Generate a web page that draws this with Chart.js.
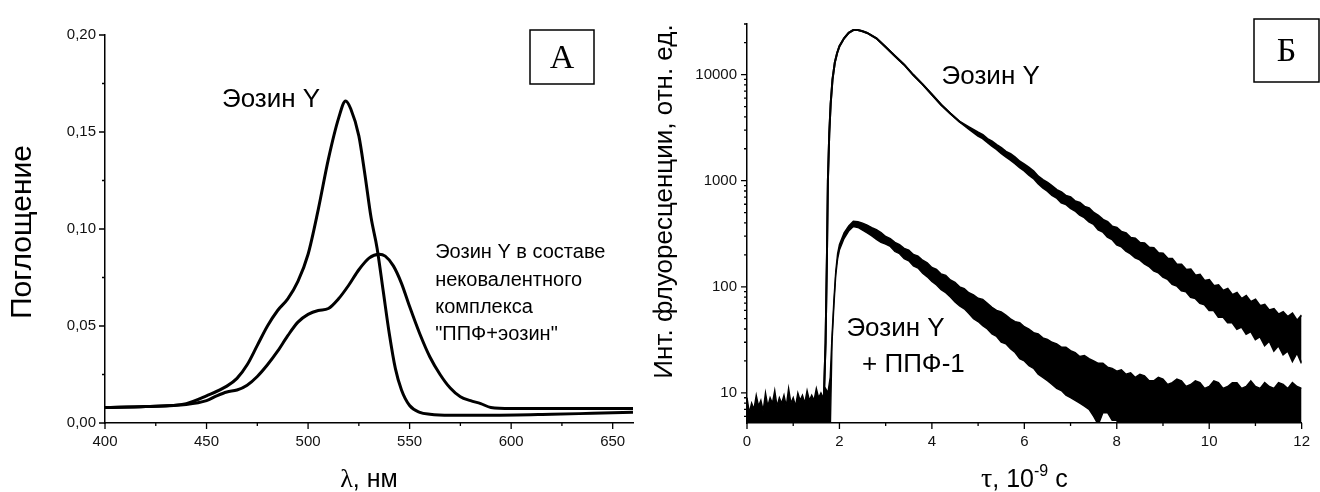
<!DOCTYPE html>
<html lang="ru">
<head>
<meta charset="UTF-8">
<title>Эозин Y: поглощение и флуоресценция</title>
<script src="https://cdn.jsdelivr.net/npm/chart.js@4.4.1/dist/chart.umd.min.js"></script>
<style>
    body { margin: 0; background: #fff; }
    canvas { position: absolute; top: 0; }
    #absChart { left: 0; }
    #decayChart { left: 650px; }
</style>
</head>
<body>
<canvas id="absChart" width="650" height="492"></canvas>
<canvas id="decayChart" width="670" height="492"></canvas>
<script>
// ---- A: absorption spectra ----
const wlEosin = [400, 420, 440, 450, 460, 465, 470, 475, 480, 485, 490, 495, 500, 505, 510, 515, 518.5, 521, 525, 528, 531, 534, 537, 540, 543, 546, 550, 555, 560, 570, 590, 620, 640, 660];
const absEosin = [0.008, 0.0085, 0.010, 0.014, 0.019, 0.023, 0.030, 0.040, 0.050, 0.058, 0.064, 0.073, 0.087, 0.110, 0.136, 0.157, 0.166, 0.162, 0.148, 0.128, 0.106, 0.090, 0.068, 0.046, 0.028, 0.017, 0.009, 0.0055, 0.0045, 0.004, 0.004, 0.0045, 0.005, 0.0055];
const wlComplex = [400, 420, 440, 450, 455, 460, 465, 470, 475, 480, 485, 490, 495, 500, 505, 510, 515, 520, 525, 530, 535, 538, 542, 546, 550, 555, 560, 565, 570, 575, 580, 585, 590, 600, 620, 640, 660];
const absComplex = [0.008, 0.0085, 0.0095, 0.0115, 0.014, 0.016, 0.017, 0.0195, 0.024, 0.030, 0.037, 0.045, 0.052, 0.056, 0.058, 0.059, 0.064, 0.071, 0.079, 0.085, 0.087, 0.086, 0.081, 0.072, 0.060, 0.046, 0.034, 0.025, 0.018, 0.0135, 0.0115, 0.010, 0.008, 0.0075, 0.0075, 0.0075, 0.0075];

const absXTicks = [400, 450, 500, 550, 600, 650];
const absXMinor = [425, 475, 525, 575, 625];
const absYTicks = [0, 0.05, 0.10, 0.15, 0.20];
const absYMinor = [0.025, 0.075, 0.125, 0.175];

// ---- Б: fluorescence decay (band = upper / lower edge of the noisy trace) ----
const tEosin = [1.66, 1.70, 1.73, 1.75, 1.78, 1.81, 1.85, 1.90, 1.95, 2.0, 2.1, 2.2, 2.3, 2.4, 2.5, 2.6, 2.8, 3.0, 3.2, 3.4, 3.6, 3.8, 4.0, 4.2, 4.4, 4.6, 4.8,
    5.0, 5.1, 5.2, 5.3, 5.4, 5.5, 5.6, 5.7, 5.8, 5.9, 6.0, 6.1, 6.2, 6.3, 6.4, 6.5, 6.6, 6.7, 6.8, 6.9, 7.0, 7.1, 7.2, 7.3, 7.4, 7.5, 7.6, 7.7, 7.8, 7.9,
    8.0, 8.1, 8.2, 8.3, 8.4, 8.5, 8.6, 8.7, 8.8, 8.9, 9.0, 9.1, 9.2, 9.3, 9.4, 9.5, 9.6, 9.7, 9.8, 9.9, 10.0, 10.1, 10.2, 10.3, 10.4, 10.5, 10.6, 10.7, 10.8, 10.9,
    11.0, 11.1, 11.2, 11.3, 11.4, 11.5, 11.6, 11.7, 11.8, 11.9, 12.0];
const eosinHi = [8, 30, 200, 1000, 2800, 5300, 9000, 13000, 16000, 18500, 22000, 24800, 26300, 26300, 25600, 24700, 22000, 18200, 15000, 12400, 9900, 8100, 6500, 5200, 4300, 3600, 3200,
    2850, 2700, 2480, 2350, 2180, 2040, 1880, 1790, 1660, 1520, 1430, 1330, 1230, 1100, 1020, 960, 890, 820, 780, 720, 700, 640, 620, 570, 550, 500, 470, 430, 410, 370,
    360, 330, 320, 290, 285, 260, 258, 235, 232, 208, 206, 185, 184, 162, 162, 145, 146, 128, 130, 114, 116, 102, 104, 92, 96, 84, 88, 77, 82, 72,
    76, 66, 68, 60, 62, 55, 58, 52, 56, 48, 54];
const eosinLo = [8, 30, 200, 1000, 2800, 5300, 9000, 13000, 16000, 18500, 22000, 24800, 26300, 26300, 25600, 24700, 22000, 18200, 15000, 12400, 9900, 8100, 6500, 5200, 4300, 3600, 3080,
    2650, 2500, 2300, 2130, 1980, 1820, 1680, 1570, 1450, 1330, 1240, 1130, 1050, 940, 860, 800, 730, 690, 620, 600, 550, 520, 475, 450, 410, 390, 345, 330, 295, 280,
    250, 240, 218, 205, 188, 180, 165, 156, 142, 136, 124, 118, 106, 102, 92, 90, 80, 78, 70, 68, 60, 60, 52, 52, 46, 46, 40, 42, 36, 38,
    32, 34, 28, 31, 25, 28, 23, 25, 20, 24, 19];

const tMix = [0, 0.05, 0.1, 0.15, 0.2, 0.25, 0.3, 0.35, 0.4, 0.45, 0.5, 0.55, 0.6, 0.65, 0.7, 0.75, 0.8, 0.85, 0.9, 0.95, 1.0, 1.05, 1.1, 1.15, 1.2, 1.25, 1.3, 1.35, 1.4, 1.45, 1.5, 1.55, 1.6, 1.65, 1.7, 1.75,
    1.80, 1.84, 1.88, 1.92, 1.96, 2.0, 2.1, 2.2, 2.3, 2.4, 2.5, 2.6, 2.7, 2.8, 2.9,
    3.0, 3.1, 3.2, 3.3, 3.4, 3.5, 3.6, 3.7, 3.8, 3.9, 4.0, 4.1, 4.2, 4.3, 4.4, 4.5, 4.6, 4.7, 4.8, 4.9, 5.0, 5.1, 5.2, 5.3, 5.4, 5.5, 5.6, 5.7, 5.8, 5.9,
    6.0, 6.1, 6.2, 6.3, 6.4, 6.5, 6.6, 6.7, 6.8, 6.9, 7.0, 7.1, 7.2, 7.3, 7.4, 7.5, 7.6, 7.7, 7.8, 7.9, 8.0, 8.1, 8.2, 8.3, 8.4, 8.5, 8.6, 8.7, 8.8, 8.9,
    9.0, 9.1, 9.2, 9.3, 9.4, 9.5, 9.6, 9.7, 9.8, 9.9, 10.0, 10.1, 10.2, 10.3, 10.4, 10.5, 10.6, 10.7, 10.8, 10.9, 11.0, 11.1, 11.2, 11.3, 11.4, 11.5, 11.6, 11.7, 11.8, 11.9, 12.0];
const mixHi = [9, 6.5, 8, 7, 9.5, 7.5, 8.5, 6.8, 10, 7.5, 9, 8, 10.5, 7.5, 9, 8, 9.5, 7.5, 11, 8, 9, 7.5, 10, 8.5, 9.5, 8, 10.5, 8.5, 9.5, 8.5, 11, 9, 10, 9, 11, 10,
    14, 35, 75, 140, 205, 250, 322, 375, 415, 410, 398, 382, 362, 345, 325,
    298, 285, 262, 250, 230, 222, 202, 195, 178, 168, 152, 146, 132, 128, 116, 110, 100, 96, 88, 84, 78, 76, 70, 64, 60, 58, 54, 50, 47, 46,
    42, 40, 37, 36, 33, 32, 30, 29, 27, 27, 25, 24, 22, 22.5, 21, 20, 19, 19, 17.5, 17, 16, 16.5, 15, 15.5, 14, 15, 14.5, 13, 13, 14,
    13.5, 12, 12.5, 13.5, 13, 11.5, 12, 13, 12.5, 11, 11.5, 13, 12.5, 11, 11.5, 12.5, 12.5, 11, 11.5, 13, 11.5, 11, 12.5, 11.5, 11, 12.5, 12, 11, 12.5, 11.5, 11];
const mixLo = [4, 4, 4, 4, 4, 4, 4, 4, 4, 4, 4, 4, 4, 4, 4, 4, 4, 4, 4, 4, 4, 4, 4, 4, 4, 4, 4, 4, 4, 4, 4, 4, 4, 4, 4, 4,
    4, 30, 66, 128, 182, 222, 285, 335, 370, 362, 342, 322, 302, 280, 262,
    252, 240, 215, 205, 184, 176, 157, 150, 134, 124, 112, 104, 94, 88, 80, 72, 66, 62, 56, 50, 47, 43, 40, 36, 34, 30, 29, 26, 24, 21,
    20, 18, 17, 15, 14, 13, 12, 11, 10.5, 9.5, 9, 8.5, 8, 7.5, 7, 6, 5, 6.5, 6.5, 5.5, 5.5, 4, 4, 4, 4, 4, 4, 4, 4, 4,
    4, 4, 4, 4, 4, 4, 4, 4, 4, 4, 4, 4, 4, 4, 4, 4, 4, 4, 4, 4, 4, 4, 4, 4, 4, 4, 4, 4, 4, 4, 4];

const decayXTicks = [0, 2, 4, 6, 8, 10, 12];
const decayXMinor = [1, 3, 5, 7, 9, 11];
const decayYTicks = [10, 100, 1000, 10000];
const decayYMinor = [];
[1, 10, 100, 1000, 10000].forEach(d => {
    for (let k = 2; k <= 9; k++) decayYMinor.push(k * d);
});

const SANS = 'Arial, "Liberation Sans", sans-serif';
const SERIF = '"Times New Roman", "Liberation Serif", serif';
const tickFont = { family: SANS, size: 15 };

function pts(xs, ys) {
    return xs.map((x, i) => ({ x: x, y: ys[i] }));
}

// tick marks, labels, framed letter and axis titles
const decor = {
    id: 'decor',
    afterDraw(chart, args, o) {
        const ctx = chart.ctx;
        const a = chart.chartArea;
        const xs = chart.scales.x, ys = chart.scales.y;
        ctx.save();
        ctx.strokeStyle = '#000';
        ctx.lineWidth = 1.3;
        ctx.beginPath();
        o.xMajor.forEach(v => { const p = xs.getPixelForValue(v); ctx.moveTo(p, a.bottom); ctx.lineTo(p, a.bottom + 6); });
        o.xMinor.forEach(v => { const p = xs.getPixelForValue(v); ctx.moveTo(p, a.bottom); ctx.lineTo(p, a.bottom + 3); });
        o.yMajor.forEach(v => { const p = ys.getPixelForValue(v); ctx.moveTo(a.left, p); ctx.lineTo(a.left - 6, p); });
        o.yMinor.forEach(v => {
            if (v < ys.min || v > ys.max) return;
            const p = ys.getPixelForValue(v); ctx.moveTo(a.left, p); ctx.lineTo(a.left - 3, p);
        });
        ctx.stroke();

        ctx.fillStyle = '#000';
        ctx.textAlign = 'left';
        ctx.textBaseline = 'middle';
        o.notes.forEach(n => {
            ctx.font = n.size + 'px ' + SANS;
            ctx.fillText(n.text, xs.getPixelForValue(n.x), ys.getPixelForValue(n.y));
        });

        // framed panel letter
        const b = o.box;
        ctx.lineWidth = 1.5;
        ctx.strokeRect(b.x0, b.y0, b.x1 - b.x0, b.y1 - b.y0);
        ctx.font = '34px ' + SERIF;
        ctx.textAlign = 'center';
        ctx.fillText(b.text, (b.x0 + b.x1) / 2, (b.y0 + b.y1) / 2 + 2);

        // y title
        ctx.save();
        ctx.translate(o.yTitle.x, (a.top + a.bottom) / 2 + o.yTitle.dy);
        ctx.rotate(-Math.PI / 2);
        ctx.font = o.yTitle.size + 'px ' + SANS;
        ctx.textAlign = 'center';
        ctx.fillText(o.yTitle.text, 0, 0);
        ctx.restore();

        // x title made of pieces (serif greek letter, superscript)
        let w = 0;
        o.xTitle.parts.forEach(p => { ctx.font = p.font; p.w = ctx.measureText(p.t).width; w += p.w; });
        let x = (a.left + a.right) / 2 - w / 2;
        ctx.textAlign = 'left';
        ctx.textBaseline = 'alphabetic';
        o.xTitle.parts.forEach(p => {
            ctx.font = p.font;
            ctx.fillText(p.t, x, o.xTitle.y + (p.dy || 0));
            x += p.w;
        });
        ctx.restore();
    }
};

const axisBase = {
    grid: { display: true, drawOnChartArea: false, drawTicks: false },
    border: { display: true, color: '#000', width: 1.5 }
};

new Chart(document.getElementById('absChart'), {
    type: 'line',
    data: {
        datasets: [
            { data: pts(wlEosin, absEosin) },
            { data: pts(wlComplex, absComplex) }
        ]
    },
    options: {
        responsive: false,
        animation: false,
        devicePixelRatio: 1,
        layout: { padding: { top: 35, right: 17, left: 0, bottom: 0 } },
        elements: {
            point: { radius: 0 },
            line: { borderColor: '#000', borderWidth: 3, cubicInterpolationMode: 'monotone', fill: false }
        },
        plugins: {
            legend: { display: false },
            tooltip: { enabled: false },
            decor: {
                xMajor: absXTicks, xMinor: absXMinor, yMajor: absYTicks, yMinor: absYMinor,
                notes: [
                    { text: 'Эозин Y', x: 457.6, y: 0.1665, size: 26 },
                    { text: 'Эозин Y в составе', x: 562.6, y: 0.0881, size: 20 },
                    { text: 'нековалентного', x: 562.6, y: 0.0737, size: 20 },
                    { text: 'комплекса', x: 562.6, y: 0.0593, size: 20 },
                    { text: '"ППФ+эозин"', x: 562.6, y: 0.0454, size: 20 }
                ],
                box: { x0: 530, y0: 30, x1: 594, y1: 84, text: 'А' },
                yTitle: { text: 'Поглощение', x: 23, dy: 3, size: 30 },
                xTitle: {
                    y: 487,
                    parts: [
                        { t: 'λ', font: '26px ' + SERIF },
                        { t: ', нм', font: '25px ' + SANS }
                    ]
                }
            }
        },
        scales: {
            x: Object.assign({}, axisBase, {
                type: 'linear', min: 400, max: 660,
                afterBuildTicks: s => { s.ticks = absXTicks.map(v => ({ value: v })); },
                afterFit: s => { s.height = 69; },
                ticks: { padding: 10, color: '#111', font: tickFont, autoSkip: false, maxRotation: 0, callback: v => String(v) }
            }),
            y: Object.assign({}, axisBase, {
                min: 0, max: 0.2,
                afterBuildTicks: s => { s.ticks = absYTicks.map(v => ({ value: v })); },
                afterFit: s => { s.width = 105; },
                ticks: { padding: 9, color: '#111', font: tickFont, autoSkip: false, callback: v => v.toFixed(2).replace('.', ',') }
            })
        }
    },
    plugins: [decor]
});

const band = { borderColor: '#000', borderWidth: 1.4, backgroundColor: '#000', tension: 0 };
const eosinBand = Object.assign({}, band, { borderWidth: 2 });

new Chart(document.getElementById('decayChart'), {
    type: 'line',
    data: {
        datasets: [
            Object.assign({ data: pts(tMix, mixHi), fill: '+1' }, band),
            Object.assign({ data: pts(tMix, mixLo), fill: false }, band),
            Object.assign({ data: pts(tEosin, eosinHi), fill: '+1' }, eosinBand),
            Object.assign({ data: pts(tEosin, eosinLo), fill: false }, eosinBand)
        ]
    },
    options: {
        responsive: false,
        animation: false,
        devicePixelRatio: 1,
        layout: { padding: { top: 24, right: 9, left: 0, bottom: 0 } },
        elements: { point: { radius: 0 } },
        plugins: {
            legend: { display: false },
            tooltip: { enabled: false },
            decor: {
                xMajor: decayXTicks, xMinor: decayXMinor, yMajor: decayYTicks, yMinor: decayYMinor,
                notes: [
                    { text: 'Эозин Y', x: 4.21, y: 9490, size: 26 },
                    { text: 'Эозин Y', x: 2.15, y: 40, size: 26 },
                    { text: '+ ППФ-1', x: 2.49, y: 18.3, size: 26 }
                ],
                box: { x0: 604, y0: 19, x1: 669, y1: 82, text: 'Б' },
                yTitle: { text: 'Инт. флуоресценции, отн. ед.', x: 15, dy: -22, size: 26 },
                xTitle: {
                    y: 487,
                    parts: [
                        { t: 'τ', font: '28px ' + SERIF },
                        { t: ', 10', font: '25px ' + SANS },
                        { t: '-9', font: '16px ' + SANS, dy: -11 },
                        { t: ' с', font: '25px ' + SANS }
                    ]
                }
            }
        },
        scales: {
            x: Object.assign({}, axisBase, {
                type: 'linear', min: 0, max: 12,
                afterBuildTicks: s => { s.ticks = decayXTicks.map(v => ({ value: v })); },
                afterFit: s => { s.height = 69; },
                ticks: { padding: 10, color: '#111', font: tickFont, autoSkip: false, maxRotation: 0, callback: v => String(v) }
            }),
            y: Object.assign({}, axisBase, {
                type: 'logarithmic', min: 5.2, max: 30000,
                afterBuildTicks: s => { s.ticks = decayYTicks.map(v => ({ value: v })); },
                afterFit: s => { s.width = 97; },
                ticks: { padding: 10, color: '#111', font: tickFont, autoSkip: false, callback: v => String(v) }
            })
        }
    },
    plugins: [decor]
});
</script>
</body>
</html>
